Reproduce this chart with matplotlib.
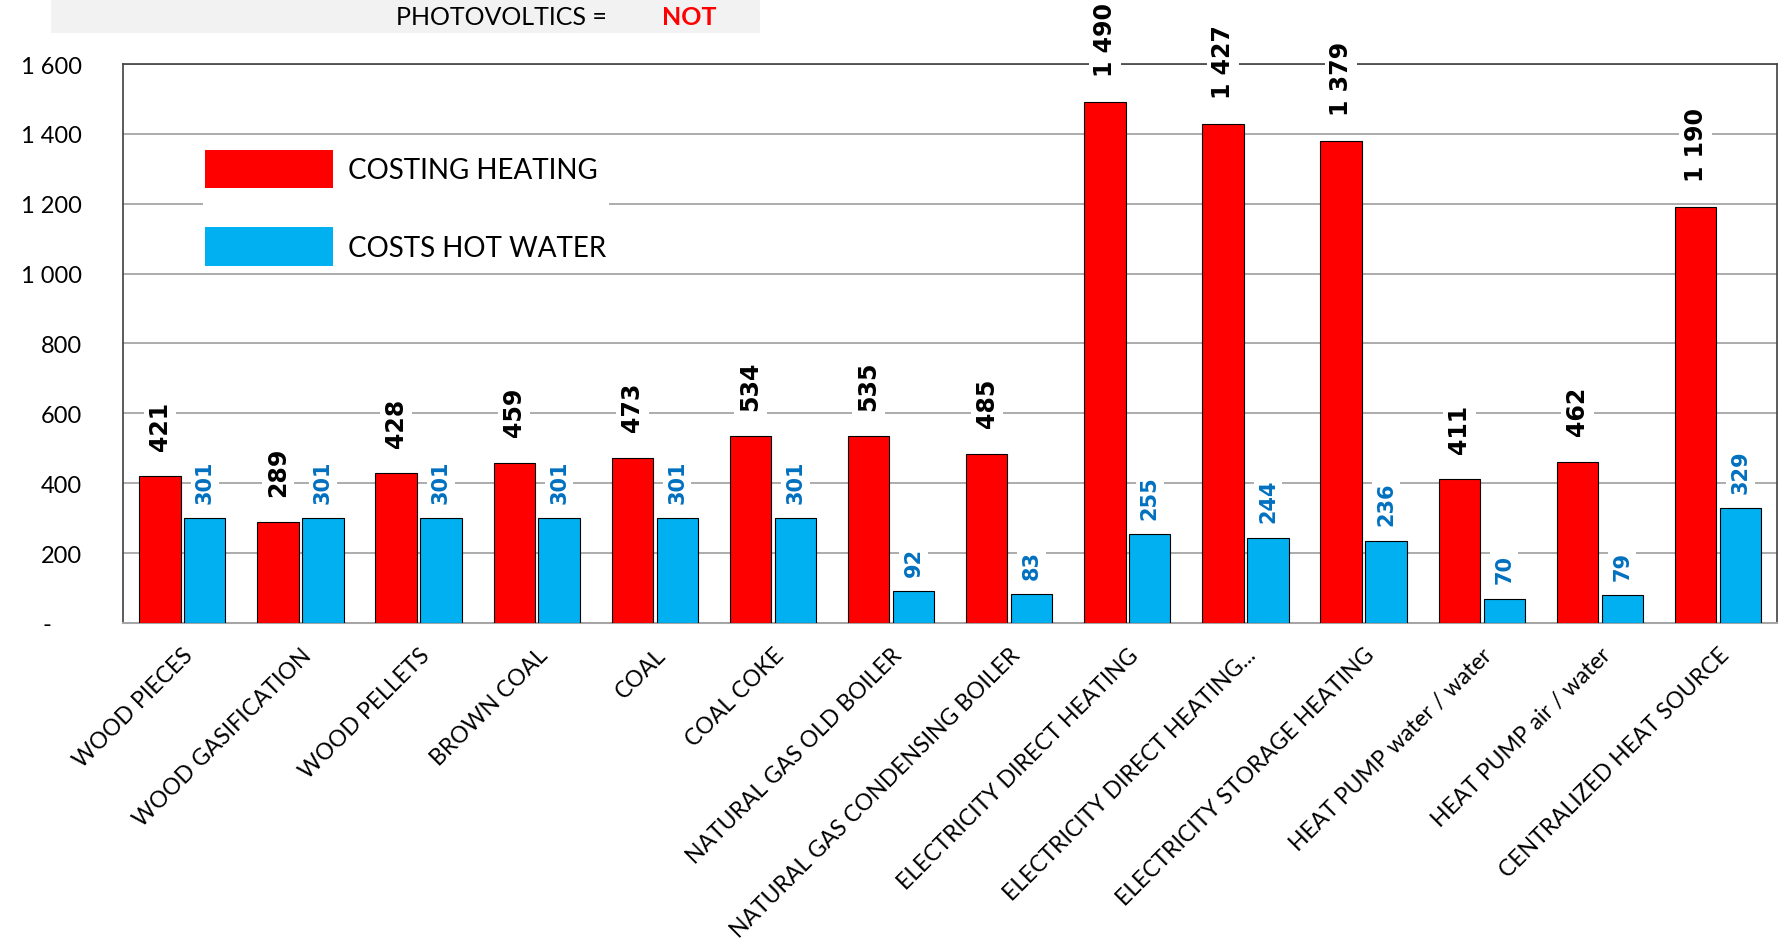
import matplotlib.pyplot as plt
import numpy as np
from matplotlib.patches import Patch, Rectangle

categories = ["WOOD PIECES", "WOOD GASIFICATION", "WOOD PELLETS", "BROWN COAL", "COAL",
              "COAL COKE", "NATURAL GAS OLD BOILER", "NATURAL GAS CONDENSING BOILER",
              "ELECTRICITY DIRECT HEATING", "ELECTRICITY DIRECT HEATING...",
              "ELECTRICITY STORAGE HEATING", "HEAT PUMP water / water",
              "HEAT PUMP air / water", "CENTRALIZED HEAT SOURCE"]
heating = [421, 289, 428, 459, 473, 534, 535, 485, 1490, 1427, 1379, 411, 462, 1190]
hot_water = [301, 301, 301, 301, 301, 301, 92, 83, 255, 244, 236, 70, 79, 329]
y_ticks = [0, 200, 400, 600, 800, 1000, 1200, 1400, 1600]

RED = "#ff0000"
BLUE = "#00b0f0"
LABEL_BLUE = "#0070c0"
SANS = ["Lato", "DejaVu Sans"]


def fmt(v):
    return f"{v:,}".replace(",", " ")


fig = plt.figure(figsize=(17.86, 9.45), dpi=100)
ax = fig.add_axes([0.069, 0.3397, 0.926, 0.5915])

x = np.arange(len(categories))
w = 0.35
off = 0.19
ax.bar(x - off, heating, w, color=RED, edgecolor="black", linewidth=0.8, zorder=3)
ax.bar(x + off, hot_water, w, color=BLUE, edgecolor="black", linewidth=0.8, zorder=3)

for xi, v in zip(x, heating):
    ax.annotate(fmt(v), (xi - off, v), xytext=(0, 19), textcoords="offset points",
                rotation=90, ha="center", va="bottom", fontsize=17, fontweight="bold",
                color="black", family="DejaVu Sans", annotation_clip=False, zorder=4,
                bbox=dict(facecolor="white", edgecolor="none", pad=3))
for xi, v in zip(x, hot_water):
    ax.annotate(fmt(v), (xi + off, v), xytext=(0, 11), textcoords="offset points",
                rotation=90, ha="center", va="bottom", fontsize=15, fontweight="bold",
                color=LABEL_BLUE, family="DejaVu Sans", annotation_clip=False, zorder=4,
                bbox=dict(facecolor="white", edgecolor="none", pad=3))

ax.set_xlim(-0.5, len(categories) - 0.5)
ax.set_ylim(0, 1600)
ax.set_yticks(y_ticks)
ax.set_yticklabels(["-     "] + [fmt(t) for t in y_ticks[1:]], family=SANS, fontsize=17)
ax.set_xticks(x)
ax.set_xticklabels(categories, rotation=45, ha="right", rotation_mode="anchor",
                   family=SANS, fontsize=16.5)
ax.tick_params(axis="y", length=0, pad=30)
ax.tick_params(axis="x", length=0, pad=15)
ax.grid(axis="y", color="#a6a6a6", linewidth=1.3, zorder=0)
ax.set_axisbelow(True)
for s in ["left", "top", "right"]:
    ax.spines[s].set_color("#404040")
    ax.spines[s].set_linewidth(1.2)
ax.spines["bottom"].set_color("#a6a6a6")
ax.spines["bottom"].set_linewidth(1.5)

handles = [Patch(facecolor=RED, edgecolor="none"), Patch(facecolor=BLUE, edgecolor="none")]
leg = ax.legend(handles, ["COSTING HEATING", "COSTS HOT WATER"], loc="upper left",
                bbox_to_anchor=(0.048, 0.851), borderaxespad=0, frameon=True, fancybox=False,
                edgecolor="none", facecolor="white", framealpha=1,
                prop={"family": SANS, "size": 20}, handlelength=4.6, handleheight=1.75,
                labelspacing=1.4, handletextpad=0.55, borderpad=0.1)
leg.set_zorder(5)

fig.patches.append(Rectangle((0.0286, 0.964), 0.397, 0.036, transform=fig.transFigure,
                             facecolor="#f2f2f2", edgecolor="none"))
fig.text(0.2805, 0.982, "PHOTOVOLTICS =", ha="center", va="center", fontsize=18, family=SANS)
fig.text(0.386, 0.982, "NOT", ha="center", va="center", fontsize=18, fontweight="bold",
         color=RED, family=SANS)

fig.savefig("out.png", dpi=100)
